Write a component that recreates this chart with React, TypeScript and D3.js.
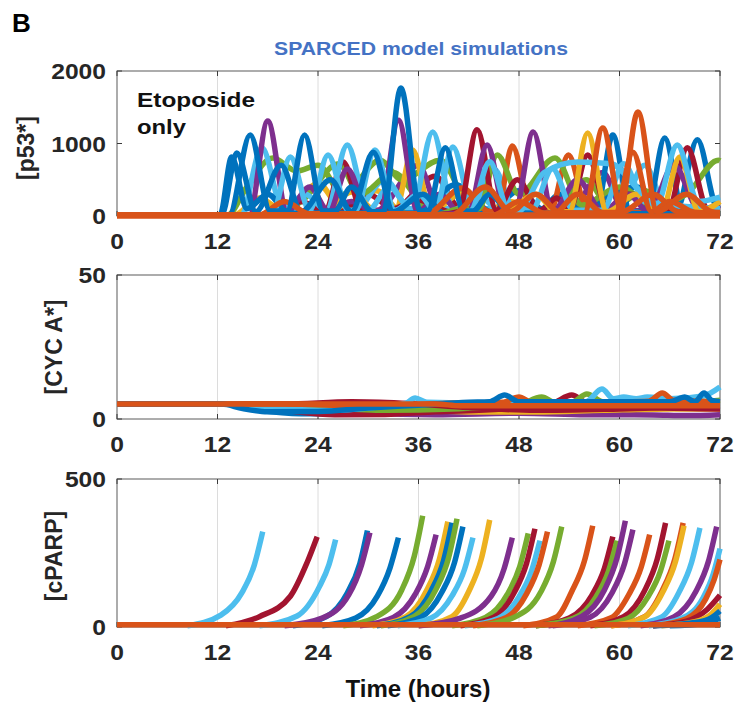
import React from 'react';
import * as d3 from 'd3';

// MATLAB default colour order
const palette = ['#0072BD', '#D95319', '#EDB120', '#7E2F8E', '#77AC30', '#4DBEEE', '#A2142F'];

const hourTicks = [0, 12, 24, 36, 48, 60, 72];
const p53Ticks = [0, 1000, 2000];
const cycATicks = [0, 50];
const cparpTicks = [0, 500];

type Trace = { c: number; pts: [number, number][] };

// Active p53 per simulated cell: [hours, concentration] knots (troughs and pulse peaks)
const p53Traces: Trace[] = [
  { c: 2, pts: [[0, 15], [14, 15], [17, 250], [20, 60], [24, 450], [27, 80], [31, 350], [34, 60], [72, 30]] },
  { c: 6, pts: [[0, 15], [26, 15], [30, 300], [33, 100], [38, 550], [41, 100], [72, 40]] },
  { c: 3, pts: [[0, 15], [24, 15], [28, 200], [31, 80], [36, 700], [38.5, 80], [54, 80], [58, 600], [60.5, 80], [72, 60]] },
  { c: 5, pts: [[0, 15], [28, 15], [32, 500], [35, 100], [60, 100], [63, 700], [65.5, 150], [72, 100]] },
  { c: 0, pts: [[0, 15], [44, 15], [48, 350], [51, 80], [56, 150], [62, 400], [66, 80], [72, 40]] },
  { c: 4, pts: [[0, 15], [52, 15], [56, 500], [59, 100], [63, 350], [66, 100], [72, 30]] },
  { c: 4, pts: [[0, 15], [13.2, 15], [15.5, 400], [18.6, 800], [21.5, 620], [24, 700], [27, 300], [31.4, 770], [34, 500], [38.6, 770], [42, 150], [45, 40], [72, 30]] },
  { c: 4, pts: [[0, 15], [18, 15], [22, 200], [26.5, 720], [29, 300], [33, 600], [37, 100], [40, 40], [72, 30]] },
  { c: 2, pts: [[0, 15], [24, 15], [28, 330], [31, 60], [33.2, 60], [35.3, 910], [37.5, 60], [41, 300], [44, 60], [47, 200], [50, 40], [72, 30]] },
  { c: 6, pts: [[0, 15], [18, 15], [22, 200], [24.8, 60], [27, 745], [29.3, 60], [32, 60], [35.9, 220], [40, 50], [72, 30]] },
  { c: 5, pts: [[0, 15], [14.8, 15], [17.3, 940], [19.8, 100], [22.5, 300], [25, 80], [27.5, 980], [30, 80], [32.5, 400], [35.2, 80], [37.7, 1160], [40.2, 80], [43, 300], [46, 40], [72, 30]] },
  { c: 3, pts: [[0, 15], [15.8, 15], [18.0, 1310], [20.3, 60], [23, 400], [25.3, 60], [27.5, 650], [30, 60], [31.4, 60], [33.6, 1320], [35.9, 60], [38.5, 300], [41, 40], [72, 30]] },
  { c: 0, pts: [[0, 15], [12.3, 15], [13.7, 815], [15.5, 100], [18, 300], [20.5, 40], [36, 40], [40.4, 430], [45, 40], [50, 40], [53, 300], [55.5, 60], [57.2, 60], [59.2, 1117], [61.3, 60], [63.3, 60], [65.4, 1075], [67.6, 60], [72, 60]] },
  { c: 5, pts: [[0, 15], [18.5, 15], [20.7, 815], [23, 80], [25.2, 840], [27.6, 80], [28.5, 80], [30.8, 910], [33.2, 80], [36, 300], [38, 80], [40.1, 950], [42.5, 100], [45, 650], [47.5, 80], [72, 40]] },
  { c: 0, pts: [[0, 15], [12.5, 15], [14.3, 870], [16.6, 60], [19.6, 700], [22, 60], [25.5, 500], [28, 60], [30.6, 880], [33, 60], [36.5, 300], [39, 40], [62, 40], [64.5, 250], [66.8, 80], [69.3, 1050], [71.6, 120], [72, 100]] },
  { c: 1, pts: [[0, 15], [17, 15], [20, 200], [23, 30], [37, 30], [41.2, 385], [44.5, 60], [45.4, 60], [47.2, 965], [49.5, 60], [51.7, 60], [53.9, 840], [56.2, 60], [72, 40]] },
  { c: 4, pts: [[0, 15], [38, 15], [41, 100], [43.2, 100], [45.4, 840], [48, 300], [52.3, 800], [55.5, 150], [60, 400], [64, 150], [68, 300], [71.8, 770], [72, 760]] },
  { c: 6, pts: [[0, 15], [38, 15], [40.8, 60], [43, 1190], [45.3, 80], [47.8, 500], [50.5, 80], [52.5, 250], [54, 80], [56.2, 840], [58.6, 80], [61, 300], [63.5, 250], [65.8, 80], [68.1, 940], [70.5, 100], [72, 80]] },
  { c: 3, pts: [[0, 15], [38, 15], [42, 60], [44.2, 980], [46.4, 60], [47.5, 60], [49.7, 1160], [52, 60], [55, 500], [58, 60], [61, 300], [63.5, 60], [66.5, 700], [69.5, 100], [72, 150]] },
  { c: 5, pts: [[0, 15], [40, 15], [42.3, 80], [44.5, 750], [46.8, 80], [49.5, 80], [52, 650], [54.5, 80], [58, 80], [60.5, 720], [63, 200], [72, 100]] },
  { c: 2, pts: [[0, 15], [46, 15], [50, 300], [52.5, 60], [54, 60], [56.2, 1145], [58.5, 60], [62, 300], [65, 60], [67.2, 815], [69.5, 60], [72, 200]] },
  { c: 0, pts: [[0, 15], [13.4, 15], [15.9, 1117], [18.3, 70], [20.3, 70], [22.4, 1117], [24.6, 70], [26, 70], [28, 400], [30.5, 60], [31.8, 60], [33.9, 1765], [36.2, 70], [37.1, 70], [39.2, 940], [41.4, 70], [42.5, 70], [44.5, 300], [47, 40], [72, 30]] },
  { c: 5, pts: [[0, 15], [46, 15], [48, 60], [51, 600], [55, 745], [59, 720], [62, 400], [64.4, 150], [66.9, 980], [69.4, 200], [72, 260]] },
  { c: 1, pts: [[0, 15], [40, 15], [44, 400], [47, 60], [50, 300], [53, 40], [55.8, 40], [58.0, 1215], [60.3, 60], [64, 300], [67, 60], [72, 40]] },
  { c: 1, pts: [[0, 15], [52, 15], [55, 300], [58, 50], [59.5, 50], [61.6, 880], [63.8, 60], [66, 200], [69, 50], [72, 40]] },
  { c: 1, pts: [[0, 15], [45, 15], [48, 200], [51, 40], [60, 40], [62.2, 1435], [64.5, 60], [68, 300], [71, 60], [72, 50]] },
  { c: 1, pts: [[0, 0], [72, 0]] },
];

// Active cyclin A per simulated cell
const cycATraces: Trace[] = [
  { c: 0, pts: [[0, 5.2], [13, 5.2], [17, 3], [22, 1.8], [28, 2], [34, 2.8], [40, 3.5], [50, 4], [60, 4.2], [72, 4]] },
  { c: 3, pts: [[0, 5.2], [15, 5.2], [22, 3.5], [30, 2], [38, 1.5], [48, 2], [56, 1.5], [64, 1.4], [68, 1.2], [72, 1.5]] },
  { c: 2, pts: [[0, 5.2], [18, 5.2], [28, 4], [36, 3], [44, 2.4], [50, 2.4], [58, 3], [66, 3.5], [72, 3.5]] },
  { c: 6, pts: [[0, 5.2], [14, 5.2], [20, 3], [26, 1.5], [32, 1.6], [38, 2.5], [46, 3.5], [52, 5.5], [54.3, 8.3], [56, 5.8], [64, 4], [72, 3.5]] },
  { c: 4, pts: [[0, 5.2], [16, 5.2], [24, 4], [32, 3], [40, 3.5], [48, 5], [50.7, 7.6], [52.5, 5.5], [54.5, 6], [56.1, 8.7], [58, 6], [66, 5.5], [72, 6.5]] },
  { c: 6, pts: [[0, 5.2], [20, 5.2], [28, 6.0], [34, 5.5], [42, 4], [50, 3], [60, 3.5], [72, 4.5]] },
  { c: 5, pts: [[0, 5.2], [14, 5.2], [18, 4], [26, 3], [32, 4.5], [34.5, 5.5], [35.6, 7.3], [37, 5.8], [45, 5.5], [56, 6], [57.9, 10.4], [59.3, 7], [60.5, 7.6], [62, 7], [63.3, 7.6], [66, 7], [70, 8], [72, 11.1]] },
  { c: 1, pts: [[0, 5.2], [20, 5.2], [30, 4.5], [40, 5.5], [46, 5.8], [48, 7.6], [49.5, 5.8], [60, 6], [63.5, 6.2], [65.1, 9], [66.5, 6.5], [72, 6]] },
  { c: 0, pts: [[0, 5.2], [12.5, 5.2], [15, 3.6], [18, 2.5], [24, 2.6], [30, 3.8], [36, 4.8], [42, 5.8], [44.5, 6], [46.3, 8.3], [48, 6], [66, 6], [67.8, 7.6], [69, 6], [70.1, 9], [71, 6.5], [72, 6]] },
  { c: 1, pts: [[0, 5.2], [38, 5.2], [41, 4.6], [72, 4.6]] },
];

// Cleaved PARP per simulated cell; a trace ends when the cell dies
const cparpTraces: Trace[] = [
  { c: 5, pts: [[8.4, 4], [12.4, 40], [14.9, 115], [16.4, 210], [17.4, 322]] },
  { c: 6, pts: [[13, 4], [17, 35], [20.7, 104], [22.7, 218], [23.9, 305]] },
  { c: 5, pts: [[17, 4], [21.5, 37], [24.2, 138], [25.3, 210], [26.1, 295]] },
  { c: 0, pts: [[21, 4], [25, 35], [27.5, 115], [29, 215], [29.9, 326]] },
  { c: 3, pts: [[20, 4], [24.5, 30], [27.7, 110], [29.2, 210], [30.2, 319]] },
  { c: 0, pts: [[24.5, 4], [28.5, 30], [31.1, 105], [32.6, 200], [33.6, 302]] },
  { c: 4, pts: [[27, 4], [31, 35], [34, 125], [35.5, 240], [36.5, 376]] },
  { c: 3, pts: [[29, 4], [33, 32], [35.6, 110], [37.1, 205], [38.1, 312]] },
  { c: 2, pts: [[30.5, 4], [34.5, 35], [37, 125], [38.5, 230], [39.5, 356]] },
  { c: 0, pts: [[31, 4], [35, 35], [37.5, 122], [39, 225], [40, 352]] },
  { c: 4, pts: [[31.5, 4], [35.5, 36], [38.1, 128], [39.6, 235], [40.6, 366]] },
  { c: 0, pts: [[32.3, 4], [36.3, 33], [38.8, 118], [40.3, 218], [41.3, 339]] },
  { c: 5, pts: [[33.5, 4], [37.5, 30], [40, 105], [41.5, 195], [42.5, 302]] },
  { c: 2, pts: [[36, 4], [40, 35], [42, 120], [43.5, 230], [44.5, 362]] },
  { c: 3, pts: [[36, 4], [41, 30], [44.7, 105], [46.2, 195], [47.2, 302]] },
  { c: 4, pts: [[40, 4], [44, 32], [46.6, 110], [48.1, 205], [49.1, 316]] },
  { c: 6, pts: [[41, 4], [45, 33], [47.4, 115], [48.9, 215], [49.9, 332]] },
  { c: 5, pts: [[41.5, 4], [45.5, 29], [48, 102], [49.5, 190], [50.5, 292]] },
  { c: 1, pts: [[42.5, 4], [46.5, 32], [48.9, 112], [50.4, 210], [51.4, 322]] },
  { c: 4, pts: [[43, 4], [47.5, 34], [50.6, 118], [52.1, 220], [53.1, 339]] },
  { c: 1, pts: [[48.5, 4], [52.5, 34], [54.3, 120], [55.8, 222], [56.8, 342]] },
  { c: 6, pts: [[50, 4], [54, 30], [56.7, 107], [58.2, 198], [59.2, 305]] },
  { c: 4, pts: [[50, 4], [54.5, 29], [57.2, 102], [58.7, 190], [59.7, 292]] },
  { c: 3, pts: [[51.5, 4], [55.5, 36], [58.2, 125], [59.7, 233], [60.7, 359]] },
  { c: 3, pts: [[52, 4], [56.5, 33], [59.1, 115], [60.6, 214], [61.6, 329]] },
  { c: 1, pts: [[55, 4], [59, 31], [61.1, 109], [62.6, 203], [63.6, 312]] },
  { c: 6, pts: [[56.5, 4], [60.5, 35], [63, 123], [64.5, 229], [65.5, 352]] },
  { c: 4, pts: [[57, 4], [61, 29], [63.4, 102], [64.9, 190], [65.9, 292]] },
  { c: 1, pts: [[59, 4], [63, 35], [65.1, 123], [66.6, 229], [67.6, 352]] },
  { c: 2, pts: [[59, 4], [63, 34], [65.2, 120], [66.7, 222], [67.7, 342]] },
  { c: 5, pts: [[61, 4], [65, 33], [67.1, 117], [68.6, 218], [69.6, 335]] },
  { c: 3, pts: [[62.5, 4], [66.5, 34], [69.1, 119], [70.6, 220], [71.6, 339]] },
  { c: 5, pts: [[63.5, 4], [67.5, 30], [70, 100], [71.2, 180], [72, 265]] },
  { c: 1, pts: [[64, 4], [68, 28], [70.3, 95], [71.3, 160], [72, 228]] },
  { c: 6, pts: [[64, 4], [68, 20], [70.5, 60], [72, 107]] },
  { c: 2, pts: [[65, 4], [69, 18], [71, 45], [72, 77]] },
  { c: 0, pts: [[64, 4], [69, 15], [71, 32], [72, 54]] },
  { c: 0, pts: [[66, 4], [70, 12], [72, 30]] },
  { c: 1, pts: [[0, 8], [72, 8]] },
];

const FONT = 'Liberation Sans, Arial, Helvetica, sans-serif';
const INK = '#262626';
const PLOT_L = 117;
const PLOT_R = 720;
const TICK_SX = 1.12;

type PanelProps = {
  top: number;
  bottom: number;
  yMax: number;
  yTicks: number[];
  label: string;
  labelX: number;
  labelY: number;
  traces: Trace[];
  strokeW: number;
};

const x = d3.scaleLinear().domain([0, 72]).range([PLOT_L, PLOT_R]);

function TickText({ x0, y0, anchor, children }: { x0: number; y0: number; anchor: 'start' | 'middle' | 'end'; children: React.ReactNode }) {
  return (
    <g transform={`translate(${x0},${y0}) scale(${TICK_SX},1)`}>
      <text textAnchor={anchor} fontFamily={FONT} fontWeight="bold" fontSize={22} fill={INK}>
        {children}
      </text>
    </g>
  );
}

function Panel({ top, bottom, yMax, yTicks, label, labelX, labelY, traces, strokeW }: PanelProps) {
  const y = d3.scaleLinear().domain([0, yMax]).range([bottom, top]);
  const line = d3
    .line<[number, number]>()
    .x((d) => x(d[0]))
    .y((d) => y(d[1]))
    .curve(d3.curveMonotoneX);
  return (
    <g>
      {/* vertical grid */}
      {hourTicks.slice(1, -1).map((t) => (
        <line key={'g' + t} x1={x(t)} x2={x(t)} y1={top} y2={bottom} stroke="#dcdcdc" strokeWidth={1} />
      ))}
      {/* axes box */}
      <rect x={PLOT_L} y={top} width={PLOT_R - PLOT_L} height={bottom - top} fill="none" stroke="#5a5a5a" strokeWidth={1} />
      {hourTicks.map((t) => (
        <g key={'t' + t}>
          <line x1={x(t)} x2={x(t)} y1={top} y2={top + 5} stroke="#3a3a3a" strokeWidth={1} />
          <line x1={x(t)} x2={x(t)} y1={bottom} y2={bottom - 5} stroke="#3a3a3a" strokeWidth={1} />
        </g>
      ))}
      {yTicks.map((v) => (
        <g key={'y' + v}>
          <line x1={PLOT_L} x2={PLOT_L + 5} y1={y(v)} y2={y(v)} stroke="#3a3a3a" strokeWidth={1} />
          <line x1={PLOT_R} x2={PLOT_R - 5} y1={y(v)} y2={y(v)} stroke="#3a3a3a" strokeWidth={1} />
        </g>
      ))}
      {/* simulated trajectories */}
      {traces.map((tr, i) => (
        <path
          key={'p' + i}
          d={line(tr.pts) || ''}
          fill="none"
          stroke={palette[tr.c]}
          strokeWidth={strokeW}
          strokeLinejoin="round"
          strokeLinecap="butt"
        />
      ))}
      {/* tick labels */}
      {yTicks.map((v) => (
        <TickText key={'yl' + v} x0={106} y0={y(v) + 8} anchor="end">
          {v}
        </TickText>
      ))}
      {hourTicks.map((t) => (
        <TickText key={'xl' + t} x0={x(t)} y0={bottom + 33} anchor="middle">
          {t}
        </TickText>
      ))}
      <text
        transform={`translate(${labelX},${labelY}) rotate(-90)`}
        textAnchor="middle"
        fontFamily={FONT}
        fontWeight="bold"
        fontSize={23}
        fill={INK}
      >
        {label}
      </text>
    </g>
  );
}

export default function App() {
  return (
    <svg
      width={734}
      height={706}
      viewBox="0 0 734 706"
      style={{ position: 'absolute', left: 0, top: 0, background: '#fff' }}
    >
      <rect width={734} height={706} fill="#fff" />
      <text x={12} y={32} fontFamily={FONT} fontWeight="bold" fontSize={26} fill="#000">
        B
      </text>
      <text x={421} y={55} textAnchor="middle" fontFamily={FONT} fontWeight="bold" fontSize={19} fill="#4472C4" textLength={294} lengthAdjust="spacingAndGlyphs">
        SPARCED model simulations
      </text>

      <Panel top={71} bottom={216} yMax={2000} yTicks={p53Ticks} label="[p53*]" labelX={34} labelY={148} traces={p53Traces} strokeW={5.5} />
      <text x={137} y={107} fontFamily={FONT} fontWeight="bold" fontSize={21} fill="#111" textLength={118} lengthAdjust="spacingAndGlyphs">
        Etoposide
      </text>
      <text x={137} y={134} fontFamily={FONT} fontWeight="bold" fontSize={21} fill="#111" textLength={49} lengthAdjust="spacingAndGlyphs">
        only
      </text>

      <Panel top={275} bottom={419} yMax={50} yTicks={cycATicks} label="[CYC A*]" labelX={62} labelY={347} traces={cycATraces} strokeW={5.5} />
      <Panel top={479} bottom={627} yMax={500} yTicks={cparpTicks} label="[cPARP]" labelX={62} labelY={556} traces={cparpTraces} strokeW={5.5} />

      <text x={418} y={697} textAnchor="middle" fontFamily={FONT} fontWeight="bold" fontSize={24} fill="#111">
        Time (hours)
      </text>
    </svg>
  );
}
